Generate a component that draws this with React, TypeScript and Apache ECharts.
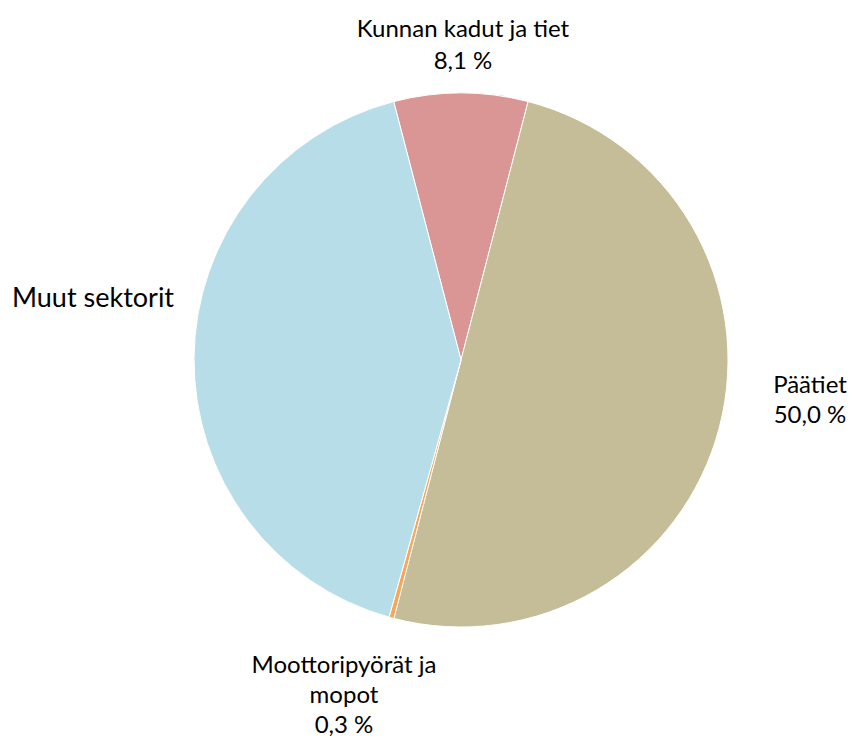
import React, { useEffect, useRef } from "react";
import * as echarts from "echarts";

const categories = ["Kunnan kadut ja tiet", "Päätiet", "Moottoripyörät ja\nmopot", "Muut sektorit"];
const shares = [8.1, 50.0, 0.3, 41.6];
const showPercent = [true, true, true, false];
const colors = ["#D99694", "#C4BD97", "#F9A65A", "#B7DEE8"];

const labelCenters: [number, number][] = [
  [463, 43],
  [810, 398],
  [344, 693],
  [93, 296],
];

export default function App() {
  const ref = useRef<HTMLDivElement>(null);
  useEffect(() => {
    document.body.style.margin = "0";
    const chart = echarts.init(ref.current!, null, { renderer: "svg" });
    chart.setOption({
      animation: false,
      backgroundColor: "#ffffff",
      series: [
        {
          type: "pie",
          center: [461, 360],
          radius: [0, 267],
          startAngle: 104.6,
          clockwise: true,
          avoidLabelOverlap: false,
          itemStyle: { borderColor: "#ffffff", borderWidth: 1 },
          label: {
            show: true,
            position: "outside",
            fontFamily: "Lato",
            fontSize: 24,
            lineHeight: 30,
            color: "#000000",
            align: "center",
            formatter: (p: any) =>
              showPercent[p.dataIndex]
                ? `${p.name}\n${p.value.toFixed(1).replace(".", ",")} %`
                : p.name,
          },
          labelLine: { show: false },
          labelLayout: (params: any) => {
            const c = labelCenters[params.dataIndex];
            return { x: c[0], y: c[1], align: "center", verticalAlign: "middle" };
          },
          data: categories.map((name, i) => ({
            name,
            value: shares[i],
            itemStyle: { color: colors[i] },
            label:
              i === 3
                ? { fontSize: 27 }
                : i === 0
                ? { lineHeight: 32 }
                : undefined,
          })),
        },
      ],
    });
    return () => chart.dispose();
  }, []);
  return <div ref={ref} style={{ width: 852, height: 739 }} />;
}
